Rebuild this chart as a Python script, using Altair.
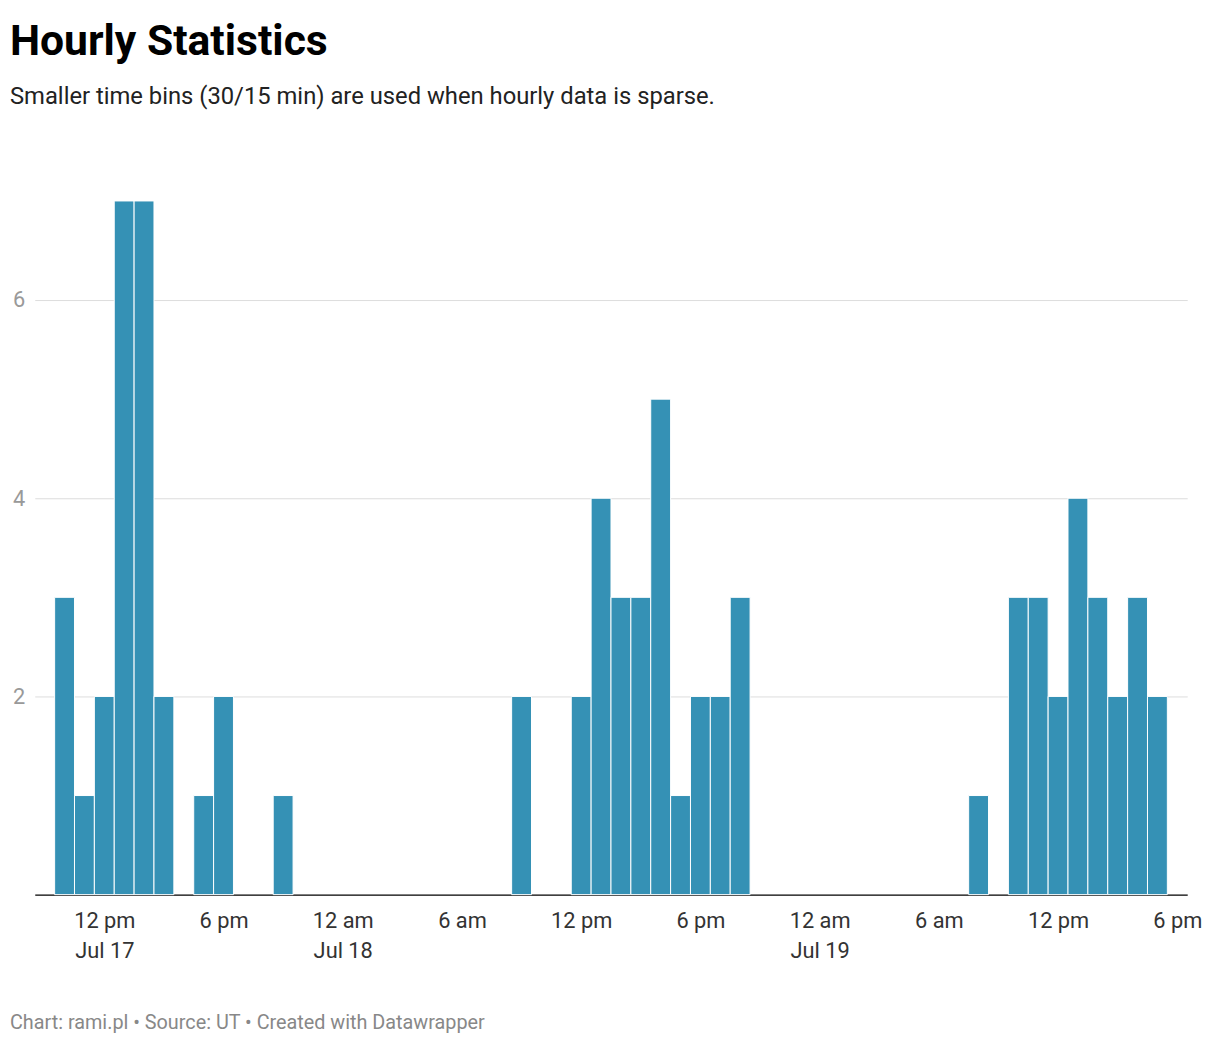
import altair as alt
import pandas as pd

hours = ["2024-07-17T10", "2024-07-17T11", "2024-07-17T12", "2024-07-17T13", "2024-07-17T14",
         "2024-07-17T15", "2024-07-17T17", "2024-07-17T18", "2024-07-17T21",
         "2024-07-18T09", "2024-07-18T12", "2024-07-18T13", "2024-07-18T14", "2024-07-18T15",
         "2024-07-18T16", "2024-07-18T17", "2024-07-18T18", "2024-07-18T19", "2024-07-18T20",
         "2024-07-19T08", "2024-07-19T10", "2024-07-19T11", "2024-07-19T12", "2024-07-19T13",
         "2024-07-19T14", "2024-07-19T15", "2024-07-19T16", "2024-07-19T17"]
counts = [3, 1, 2, 7, 7, 2, 1, 2, 1,
          2, 2, 4, 3, 3, 5, 1, 2, 2, 3,
          1, 3, 3, 2, 4, 3, 2, 3, 2]

t = pd.to_datetime([h + ":00:00" for h in hours])
source = pd.DataFrame({
    "start": (t - pd.Timedelta(minutes=30)).strftime("%Y-%m-%dT%H:%M:%SZ"),
    "end": (t + pd.Timedelta(minutes=30)).strftime("%Y-%m-%dT%H:%M:%SZ"),
    "count": counts,
})

tick_times = pd.date_range("2024-07-17T12:00", "2024-07-19T18:00", freq="6h")
tick_vals = [alt.DateTime(year=d.year, month=d.month, date=d.day, hours=d.hour, utc=True) for d in tick_times]

label_expr = ("[replace(replace(utcFormat(datum.value, '%-I %p'), 'PM', 'pm'), 'AM', 'am'), "
              "(utchours(datum.value) == 0 || datum.index == 0) ? utcFormat(datum.value, '%b %-d') : '']")

x = alt.X("start:T", scale=alt.Scale(type="utc", domain=["2024-07-17T08:30:00Z", "2024-07-19T18:30:00Z"]),
          axis=alt.Axis(title=None, values=tick_vals, labelExpr=label_expr, grid=False, ticks=False,
                        domainColor="#000000", domainWidth=1.5, labelFontSize=22, labelColor="#333333",
                        labelPadding=16, labelFont="Roboto", labelFlush=False, labelLineHeight=30))

bars = alt.Chart(source).mark_bar(color="#3591b5", stroke="white", strokeWidth=1).encode(
    x=x,
    x2="end:T",
    y=alt.Y("count:Q", scale=alt.Scale(domain=[0, 7]),
            axis=alt.Axis(title=None, values=[2, 4, 6], domain=False, ticks=False, gridColor="#dddddd",
                          labelFontSize=22, labelColor="#999999", labelPadding=10, labelFont="Roboto")),
    y2=alt.datum(0),
)

footer = alt.Chart(pd.DataFrame({"t": ["Chart: rami.pl • Source: UT • Created with Datawrapper"]})).mark_text(
    align="left", baseline="middle", fontSize=20, color="#888888", font="Roboto"
).encode(text="t:N", x=alt.value(-25), y=alt.value(830))

chart = (bars + footer).properties(
    width=1163, height=700,
    title=alt.TitleParams("Hourly Statistics", subtitle="Smaller time bins (30/15 min) are used when hourly data is sparse.",
                          anchor="start", fontSize=43, font="Roboto", fontWeight="bold", color="#000000",
                          subtitleFontSize=24, subtitleFont="Roboto", subtitleColor="#222222",
                          subtitlePadding=22, offset=92, frame="group", dx=-25),
    padding={"left": 2, "top": 8, "right": 10, "bottom": 5},
).configure_view(stroke=None)

chart.save("out.html", embed_options={"renderer": "svg", "actions": False})
